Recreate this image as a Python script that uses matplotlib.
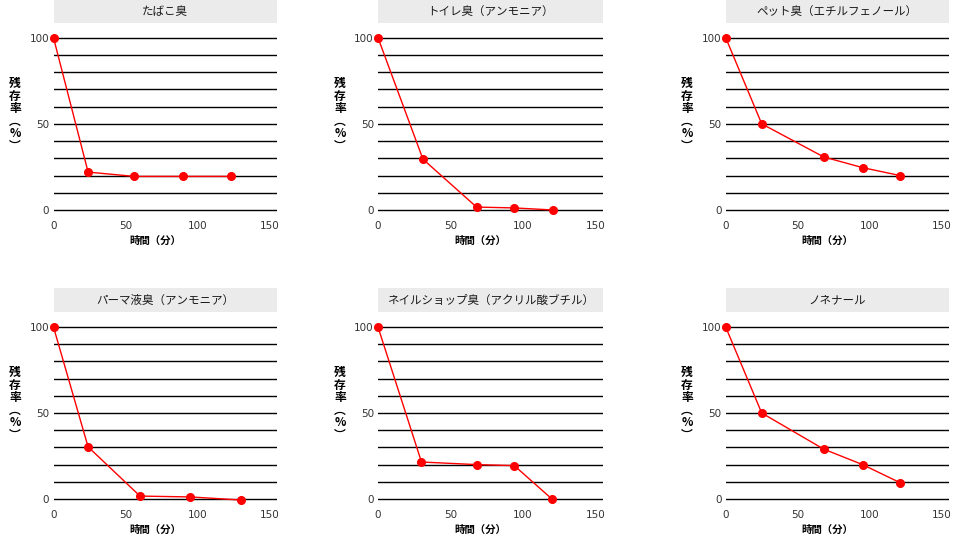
import matplotlib.pyplot as plt

plt.rcParams['font.family'] = ['Noto Sans CJK JP', 'DejaVu Sans']

# 各臭気の残存率データ
titles = ['たばこ臭', 'トイレ臭（アンモニア）', 'ペット臭（エチルフェノール）',
          'パーマ液臭（アンモニア）', 'ネイルショップ臭（アクリル酸ブチル）', 'ノネナール']
times = [
    [0, 24, 56, 90, 123],
    [0, 31, 68, 94, 121],
    [0, 25, 68, 95, 121],
    [0, 24, 60, 95, 130],
    [0, 30, 68, 94, 120],
    [0, 25, 68, 95, 121],
]
rates = [
    [100, 22, 19.5, 19.5, 19.5],
    [100, 29.5, 1.7, 1.2, 0],
    [100, 50, 30.8, 24.6, 20],
    [100, 30.3, 1.7, 1.2, -0.6],
    [100, 21.5, 20, 19.4, 0],
    [100, 50, 29, 20, 9.5],
]
xticks = [0, 50, 100, 150]
yticks = [0, 50, 100]

W, H = 960, 538
fig = plt.figure(figsize=(W / 100, H / 100), dpi=100)

col_left = [53.5, 378, 725.7]
col_right = [277, 602.7, 949]
row_y100 = [37.7, 327]
row_y0 = [210, 499]
strip_top = [0, 288.3]
strip_bot = [22.7, 311.7]
ylab_x = [15, 340, 687]

def fx(px):
    return px / W

def fy(py):
    return 1 - py / H

ymin, ymax = -5, 105
for i in range(6):
    r, c = divmod(i, 3)
    L, R = col_left[c], col_right[c]
    ppu = (row_y0[r] - row_y100[r]) / 100
    top = row_y100[r] - (ymax - 100) * ppu
    bot = row_y0[r] + (0 - ymin) * ppu
    ax = fig.add_axes([fx(L), fy(bot), fx(R - L), (bot - top) / H])
    ax.set_xlim(0, 155)
    ax.set_ylim(ymin, ymax)
    for g in range(0, 101, 10):
        ax.axhline(g, color='black', lw=1.0, zorder=1)
    ax.plot(times[i], rates[i], color='red', lw=1, marker='o', ms=5.5,
            clip_on=False, zorder=3)
    ax.set_xticks(xticks)
    ax.set_yticks(yticks)
    ax.tick_params(length=0, labelsize=7.5, pad=3)
    ax.tick_params(axis='x', pad=1.5)
    for lab in ax.get_xticklabels() + ax.get_yticklabels():
        lab.set_family('DejaVu Sans')
        lab.set_color('#333333')
    for s in ax.spines.values():
        s.set_visible(False)
    ax.set_facecolor('none')

    # ファセットの見出し
    sa = fig.add_axes([fx(L), fy(strip_bot[r]), fx(R - L),
                       (strip_bot[r] - strip_top[r]) / H])
    sa.set_facecolor('#ebebeb')
    sa.set_xticks([])
    sa.set_yticks([])
    for s in sa.spines.values():
        s.set_visible(False)
    sa.text(0.5, 0.5, titles[i], ha='center', va='center', fontsize=8.3,
            color='#1a1a1a', transform=sa.transAxes)

    # 軸ラベル
    xc = (L + R) / 2 - 10
    fig.text(fx(xc), fy(row_y0[r] + 31), '時間（分）', ha='center',
             va='center', fontsize=7.5, fontweight='bold')
    yc = (row_y0[r] + row_y100[r]) / 2 - 9
    fig.text(fx(ylab_x[c]), fy(yc), '残\n存\n率\n︵\n%\n︶', ha='center',
             va='center', fontsize=8.5, fontweight='bold', linespacing=0.95)

fig.savefig('out.png', dpi=100)
